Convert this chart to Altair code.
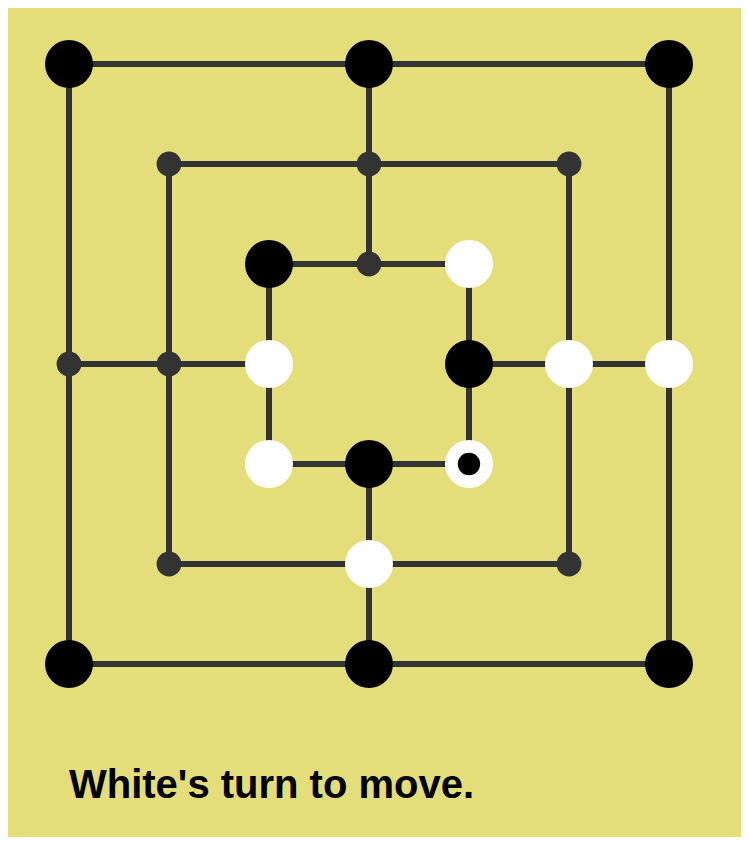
import altair as alt
import pandas as pd

# board segments (grid units 0..6)
seg_x = [0, 6, 6, 0, 1, 5, 5, 1, 2, 4, 4, 2, 3, 3, 0, 4]
seg_y = [0, 0, 6, 6, 1, 1, 5, 5, 2, 2, 4, 4, 0, 4, 3, 3]
seg_x2 = [6, 6, 0, 0, 5, 5, 1, 1, 4, 4, 2, 2, 3, 3, 2, 6]
seg_y2 = [0, 6, 6, 0, 1, 5, 5, 1, 2, 4, 4, 2, 2, 6, 3, 3]

pt_x = [0, 3, 6, 0, 6, 0, 3, 6, 1, 3, 5, 1, 5, 1, 3, 5, 2, 3, 4, 2, 4, 2, 3, 4]
pt_y = [0, 0, 0, 3, 3, 6, 6, 6, 1, 1, 1, 3, 3, 5, 5, 5, 2, 2, 2, 3, 3, 4, 4, 4]
pt_state = ["black", "black", "black", "empty", "white", "black", "black", "black",
            "empty", "empty", "empty", "empty", "white", "empty", "white", "empty",
            "black", "empty", "white", "white", "black", "white", "black", "marked"]

segs = pd.DataFrame({"x": seg_x, "y": seg_y, "x2": seg_x2, "y2": seg_y2})
pts = pd.DataFrame({"x": pt_x, "y": pt_y, "state": pt_state})

xs = alt.Scale(domain=[0, 6], range=[61, 661])
ys = alt.Scale(domain=[0, 6], range=[56, 656])
noax = None

lines = alt.Chart(segs).mark_rule(color="#333333", strokeWidth=6).encode(
    x=alt.X("x:Q", scale=xs, axis=noax), y=alt.Y("y:Q", scale=ys, axis=noax),
    x2="x2:Q", y2="y2:Q")

empty = alt.Chart(pts).transform_filter("datum.state == 'empty'").mark_circle(
    color="#333333", opacity=1, size=615).encode(
    x=alt.X("x:Q", scale=xs, axis=noax), y=alt.Y("y:Q", scale=ys, axis=noax))

pieces = alt.Chart(pts).transform_filter("datum.state != 'empty'").mark_circle(
    opacity=1, size=2300).encode(
    x=alt.X("x:Q", scale=xs, axis=noax), y=alt.Y("y:Q", scale=ys, axis=noax),
    color=alt.Color("state:N", legend=None,
                    scale=alt.Scale(domain=["black", "white", "marked"],
                                    range=["#000000", "#ffffff", "#ffffff"])))

dot = alt.Chart(pts).transform_filter("datum.state == 'marked'").mark_circle(
    color="#000000", opacity=1, size=500).encode(
    x=alt.X("x:Q", scale=xs, axis=noax), y=alt.Y("y:Q", scale=ys, axis=noax))

label = alt.Chart(pd.DataFrame({"t": ["White's turn to move."]})).mark_text(
    font="Liberation Sans", fontWeight="bold", fontSize=40, align="left",
    baseline="alphabetic", color="#000000").encode(
    text="t:N", x=alt.value(61), y=alt.value(790))

chart = (lines + empty + pieces + dot + label).properties(
    width=733, height=829, background="#e3de7a",
    autosize=alt.AutoSizeParams(type="none"), padding=0
).configure_view(stroke=None, fill="#e3de7a")

chart.save("out.html", embed_options={"renderer": "svg", "actions": False})
